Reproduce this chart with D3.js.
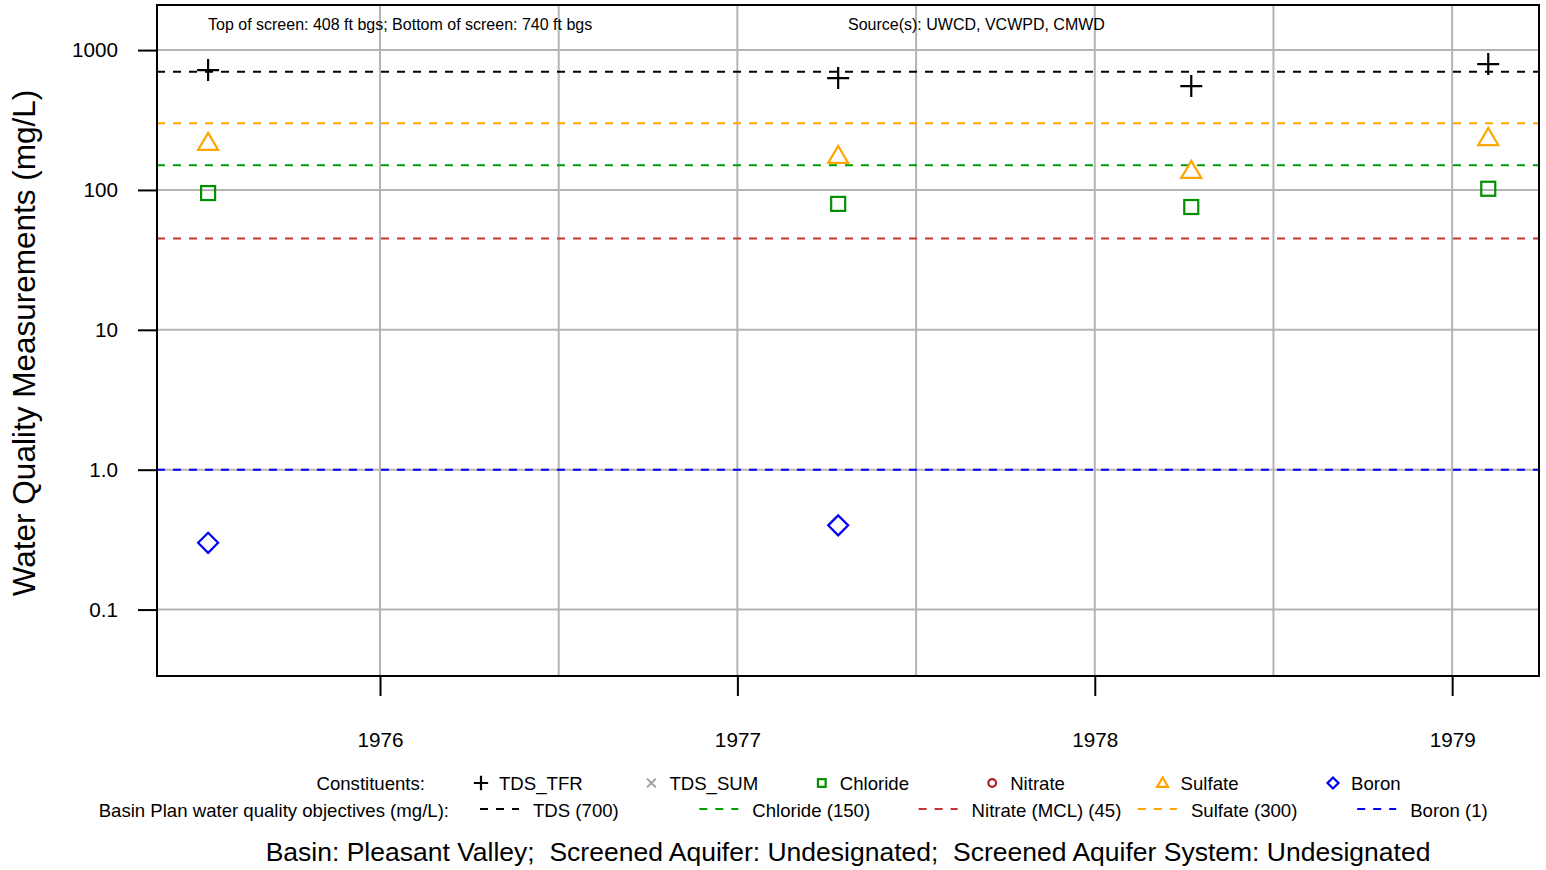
<!DOCTYPE html>
<html><head><meta charset="utf-8">
<script src="https://cdn.jsdelivr.net/npm/d3@7"></script>
<style>body{margin:0;background:#fff}svg{display:block;font-family:"Liberation Sans",Arial,sans-serif}</style>
</head><body><svg id="c" width="1546" height="870"></svg>
<script>
const sampleDates = [1975.519, 1977.282, 1978.270, 1979.101];
const tdsTFR   = [720, 631, 553, 794];
const sulfate  = [217, 175, 137, 235];
const chloride = [95, 79.5, 75.5, 102];
const boronDates = [1975.519, 1977.282];
const boron    = [0.30, 0.40];
const yTicks = [0.1, 1, 10, 100, 1000];
const yTickLabels = ["0.1", "1.0", "10", "100", "1000"];
const xTicks = [1976, 1977, 1978, 1979];
const xGrid = [1976, 1976.5, 1977, 1977.5, 1978, 1978.5, 1979];
const objectiveNames = ["TDS (700)", "Chloride (150)", "Nitrate (MCL) (45)", "Sulfate (300)", "Boron (1)"];
const objectiveValues = [700, 150, 45, 300, 1];
const objectiveColors = ["#000000", "#00a000", "#c83232", "#ffa500", "#0000ff"];
const constituentNames = ["TDS_TFR", "TDS_SUM", "Chloride", "Nitrate", "Sulfate", "Boron"];
const constituentColors = ["#000000", "#a0a0a0", "#009000", "#b22222", "#ffa500", "#0000ff"];
const constituentShapes = ["plus", "cross", "square", "circle", "triangle", "diamond"];

const svg = d3.select("#c");
const L = 157, R = 1539, T = 5, B = 676;
const x = d3.scaleLinear().domain([1975.376, 1979.243]).range([L, R]);
const y = d3.scaleLog().domain([0.0335, 2100]).range([B, T]);

// grid
svg.append("g").selectAll("line").data(xGrid).join("line")
  .attr("x1", d => x(d)).attr("x2", d => x(d)).attr("y1", T).attr("y2", B)
  .attr("stroke", "#b4b4b4").attr("stroke-width", 2);
svg.append("g").selectAll("line").data(yTicks).join("line")
  .attr("x1", L).attr("x2", R).attr("y1", d => y(d)).attr("y2", d => y(d))
  .attr("stroke", "#b4b4b4").attr("stroke-width", 2);

// objective lines
svg.append("g").selectAll("line").data(objectiveValues).join("line")
  .attr("x1", L).attr("x2", R).attr("y1", d => y(d)).attr("y2", d => y(d))
  .attr("stroke", (d, i) => objectiveColors[i]).attr("stroke-width", 2)
  .attr("stroke-dasharray", "8,8");

// axes
const yAxis = d3.axisLeft(y).tickValues(yTicks).tickFormat((d, i) => yTickLabels[i]).tickSize(19).tickPadding(20);
const gy = svg.append("g").attr("transform", `translate(${L},0)`).call(yAxis);
gy.select(".domain").remove();
gy.selectAll(".tick line").attr("stroke", "#000").attr("stroke-width", 2);
gy.selectAll("text").attr("font-size", 20.7).attr("fill", "#000").attr("font-family", "Liberation Sans, Arial, sans-serif");

const xAxis = d3.axisBottom(x).tickValues(xTicks).tickFormat(d3.format("d")).tickSize(20).tickPadding(36);
const gx = svg.append("g").attr("transform", `translate(0,${B})`).call(xAxis);
gx.select(".domain").remove();
gx.selectAll(".tick line").attr("stroke", "#000").attr("stroke-width", 2);
gx.selectAll("text").attr("font-size", 20.7).attr("fill", "#000").attr("font-family", "Liberation Sans, Arial, sans-serif");

// frame
svg.append("rect").attr("x", L).attr("y", T).attr("width", R - L).attr("height", B - T)
  .attr("fill", "none").attr("stroke", "#000").attr("stroke-width", 2);

// marker drawing
function marker(g, shape, cx, cy, color, s) {
  s = s || 1;
  if (shape === "plus") {
    g.append("path").attr("d", `M${cx-11*s},${cy}H${cx+11*s}M${cx},${cy-11*s}V${cy+11*s}`)
      .attr("stroke", color).attr("stroke-width", 2.2).attr("fill", "none");
  } else if (shape === "cross") {
    g.append("path").attr("d", `M${cx-8*s},${cy-8*s}L${cx+8*s},${cy+8*s}M${cx-8*s},${cy+8*s}L${cx+8*s},${cy-8*s}`)
      .attr("stroke", color).attr("stroke-width", 2).attr("fill", "none");
  } else if (shape === "square") {
    g.append("rect").attr("x", cx-7*s).attr("y", cy-7*s).attr("width", 14*s).attr("height", 14*s)
      .attr("stroke", color).attr("stroke-width", 2.2).attr("fill", "none");
  } else if (shape === "circle") {
    g.append("circle").attr("cx", cx).attr("cy", cy).attr("r", 7*s)
      .attr("stroke", color).attr("stroke-width", 2.2).attr("fill", "none");
  } else if (shape === "triangle") {
    g.append("path").attr("d", `M${cx},${cy-10*s}L${cx+10*s},${cy+7*s}L${cx-10*s},${cy+7*s}Z`)
      .attr("stroke", color).attr("stroke-width", 2.2).attr("fill", "none");
  } else if (shape === "diamond") {
    g.append("path").attr("d", `M${cx},${cy-10*s}L${cx+10*s},${cy}L${cx},${cy+10*s}L${cx-10*s},${cy}Z`)
      .attr("stroke", color).attr("stroke-width", 2.2).attr("fill", "none");
  }
}

const pts = svg.append("g");
sampleDates.forEach((d, i) => marker(pts, "plus", x(d), y(tdsTFR[i]), constituentColors[0]));
sampleDates.forEach((d, i) => marker(pts, "triangle", x(d), y(sulfate[i]), constituentColors[4]));
sampleDates.forEach((d, i) => marker(pts, "square", x(d), y(chloride[i]), constituentColors[2]));
boronDates.forEach((d, i) => marker(pts, "diamond", x(d), y(boron[i]), constituentColors[5]));

// annotations
svg.append("text").attr("x", 208).attr("y", 30).attr("font-size", 16).text("Top of screen: 408 ft bgs; Bottom of screen: 740 ft bgs");
svg.append("text").attr("x", 848).attr("y", 30).attr("font-size", 16).text("Source(s): UWCD, VCWPD, CMWD");

// y title
svg.append("text").attr("transform", "translate(35,343) rotate(-90)").attr("text-anchor", "middle")
  .attr("font-size", 31.5).text("Water Quality Measurements (mg/L)");

// legend row 1
const lg = svg.append("g").attr("font-size", 18.6);
lg.append("text").attr("x", 425).attr("y", 790).attr("text-anchor", "end").text("Constituents:");
constituentNames.forEach((n, i) => {
  const bx = 481 + i * 170.4;
  marker(lg, constituentShapes[i], bx, 783, constituentColors[i], i === 0 ? 0.65 : 0.55);
  lg.append("text").attr("x", bx + 18).attr("y", 790).text(n);
});
// legend row 2
lg.append("text").attr("x", 449).attr("y", 817).attr("text-anchor", "end").text("Basin Plan water quality objectives (mg/L):");
objectiveNames.forEach((n, i) => {
  const bx = 480 + i * 219.3;
  lg.append("line").attr("x1", bx).attr("x2", bx + 39).attr("y1", 809).attr("y2", 809)
    .attr("stroke", objectiveColors[i]).attr("stroke-width", 2).attr("stroke-dasharray", "8,8");
  lg.append("text").attr("x", bx + 53).attr("y", 817).text(n);
});

// bottom title
svg.append("text").attr("x", 848).attr("y", 861).attr("text-anchor", "middle").attr("font-size", 26.5)
  .attr("xml:space", "preserve").style("white-space", "pre")
  .text("Basin: Pleasant Valley;  Screened Aquifer: Undesignated;  Screened Aquifer System: Undesignated");
</script></body></html>
